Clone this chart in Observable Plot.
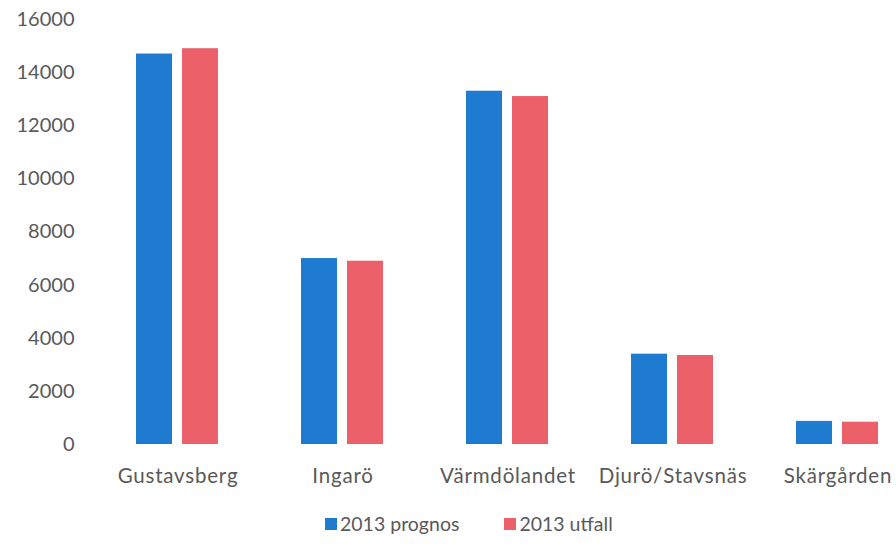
<!DOCTYPE html>
<html>
<head>
<meta charset="utf-8">
<script src="https://cdn.jsdelivr.net/npm/d3@7"></script>
<script src="https://cdn.jsdelivr.net/npm/@observablehq/plot@0.6"></script>
<style>
  html, body { margin: 0; padding: 0; background: #fff; }
  #chart { width: 896px; height: 548px; overflow: hidden; position: relative; }
  #chart svg text { font-family: Lato, "Open Sans", sans-serif; fill: #595959; }
  #chart svg g[aria-label="y-axis tick label"] text { font-size: 20px; }
  #chart svg g[aria-label="fx-axis tick label"] text { font-size: 20.5px; letter-spacing: 0.8px; }
  .legend { display: flex; align-items: center; position: absolute; left: 325px; top: 512px;
    font-family: Lato, "Open Sans", sans-serif; font-size: 19.5px; color: #595959; }
  .legend .sw { width: 12px; height: 12px; display: inline-block; margin-right: 3px; }
  .legend .item { display: flex; align-items: center; margin-right: 45px; }
</style>
</head>
<body>
<div id="chart"></div>
<script>
const categories = ["Gustavsberg", "Ingarö", "Värmdölandet", "Djurö/Stavsnäs", "Skärgården"];
const seriesNames = ["2013 prognos", "2013 utfall"];
const prognos = [14700, 7000, 13300, 3400, 870];
const utfall = [14900, 6900, 13100, 3350, 840];
const yTicks = [0, 2000, 4000, 6000, 8000, 10000, 12000, 14000, 16000];
const colors = ["#1f7bd0", "#ec6169"];

const data = [];
categories.forEach((c, i) => {
  data.push({cat: c, series: seriesNames[0], value: prognos[i]});
  data.push({cat: c, series: seriesNames[1], value: utfall[i]});
});

const plot = Plot.plot({
  width: 896,
  height: 500,
  marginTop: 19,
  marginBottom: 56,
  marginLeft: 93,
  marginRight: -26,
  style: {fontFamily: "Lato, 'Open Sans', sans-serif", fontSize: "20px", color: "#595959", background: "#fff"},
  fx: {domain: categories, padding: 0, label: null, tickSize: 0, tickPadding: 24},
  x: {domain: seriesNames, axis: null, paddingInner: 0.213, paddingOuter: 0.872},
  y: {domain: [0, 16000], ticks: yTicks, tickFormat: d => String(d), tickSize: 0, tickPadding: 21, label: null},
  color: {domain: seriesNames, range: colors},
  marks: [
    Plot.barY(data, {fx: "cat", x: "series", y: "value", fill: "series"})
  ]
});
document.getElementById("chart").appendChild(plot);

const legend = document.createElement("div");
legend.className = "legend";
seriesNames.forEach((s, i) => {
  const item = document.createElement("div");
  item.className = "item";
  const sw = document.createElement("span");
  sw.className = "sw";
  sw.style.background = colors[i];
  const t = document.createElement("span");
  t.textContent = s;
  item.appendChild(sw);
  item.appendChild(t);
  legend.appendChild(item);
});
document.getElementById("chart").appendChild(legend);
</script>
</body>
</html>
